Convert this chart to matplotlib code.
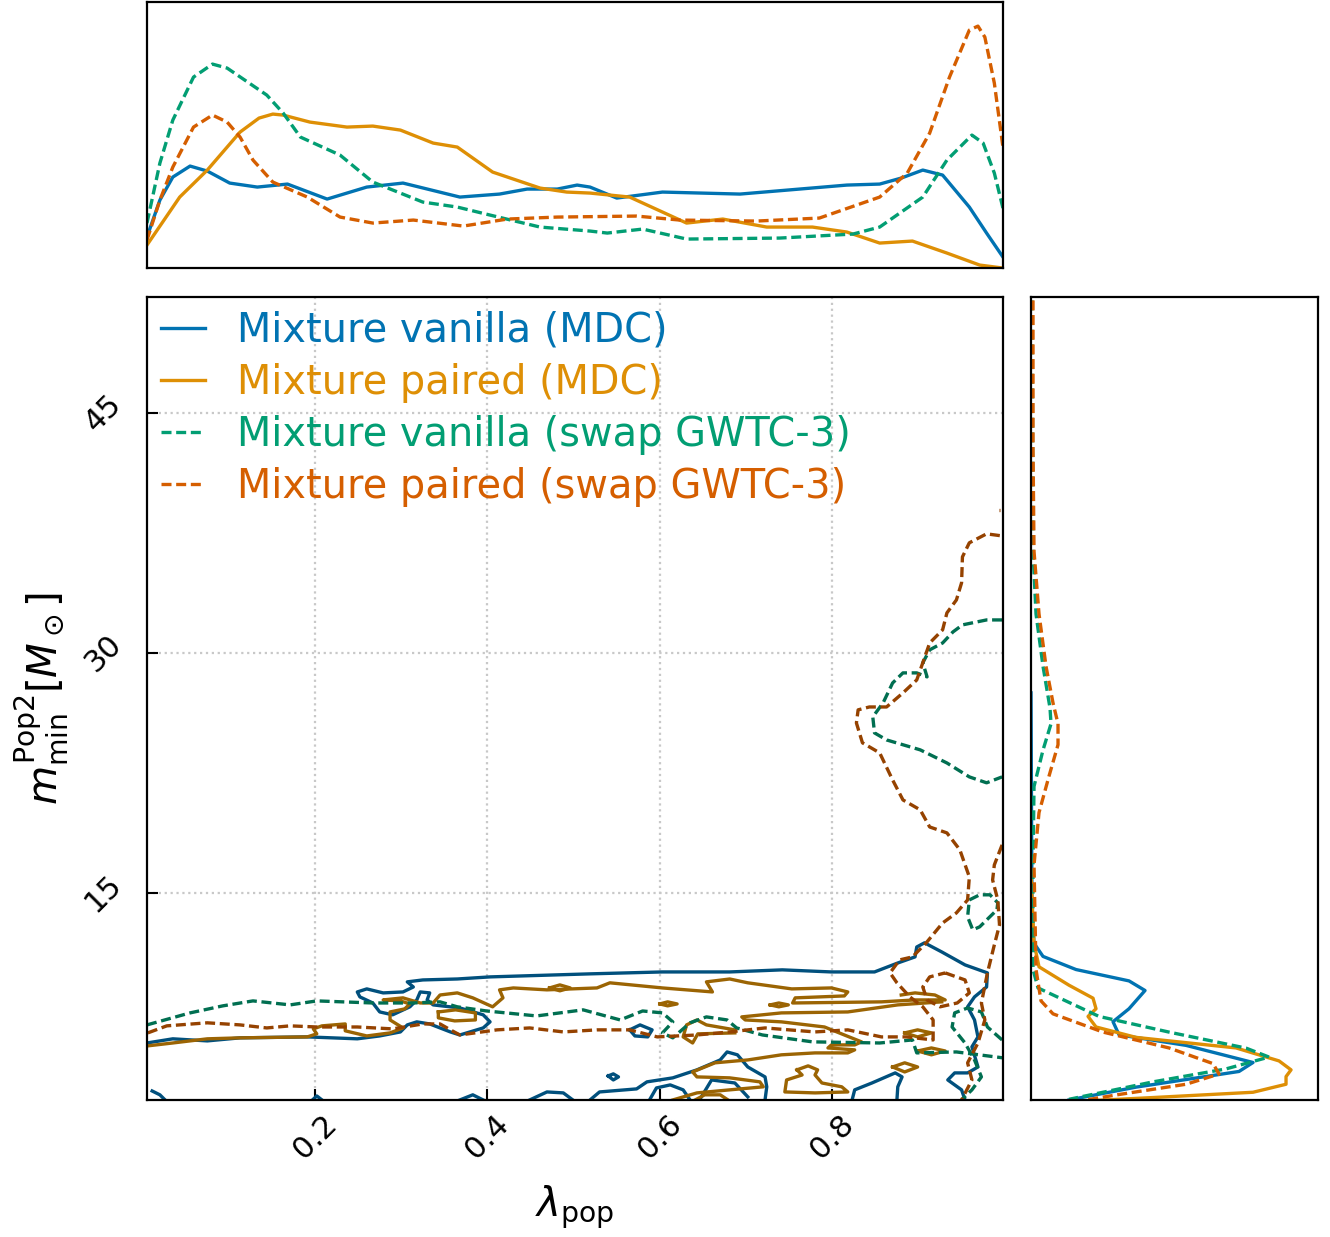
import numpy as np
import matplotlib
matplotlib.use("Agg")
import matplotlib.pyplot as plt

# --- labels / styles ---
labels = ["Mixture vanilla (MDC)", "Mixture paired (MDC)",
          "Mixture vanilla (swap GWTC-3)", "Mixture paired (swap GWTC-3)"]
colors = ["#0173b2", "#de8f05", "#029e73", "#d55e00"]
dark_colors = ["#01507d", "#9b6403", "#016f51", "#954200"]
styles = ["-", "-", "--", "--"]

lam_lim = (0.005, 0.998)
m_lim = (2.06, 52.25)
lam_ticks = [0.2, 0.4, 0.6, 0.8]
m_ticks = [15, 30, 45]

# --- 1D marginal of lambda_pop (top panel) ---
lam_vanilla_mdc = [0.005, 0.020, 0.035, 0.055, 0.075, 0.101, 0.133, 0.168, 0.214, 0.260, 0.302,
                   0.368, 0.414, 0.446, 0.481, 0.504, 0.519, 0.550, 0.603, 0.693, 0.817, 0.855,
                   0.880, 0.905, 0.928, 0.959, 0.979, 0.998]
pdf_vanilla_mdc = [31, 68, 91, 102, 97, 85, 81, 84, 69, 81, 85,
                   71, 74, 79, 79, 83, 81, 70, 76, 74, 83, 84,
                   90, 98, 93, 61, 35, 11]

lam_paired_mdc = [0.005, 0.043, 0.075, 0.113, 0.135, 0.151, 0.163, 0.194, 0.237, 0.267, 0.299,
                  0.337, 0.365, 0.406, 0.461, 0.492, 0.519, 0.565, 0.631, 0.673, 0.724, 0.777,
                  0.817, 0.855, 0.893, 0.933, 0.971, 0.998]
pdf_paired_mdc = [23, 71, 98, 136, 150, 154, 153, 146, 141, 142, 138,
                  125, 121, 96, 80, 76, 75, 71, 45, 49, 41, 41,
                  36, 25, 27, 15, 3, 0]

lam_vanilla_swap = [0.005, 0.020, 0.035, 0.059, 0.081, 0.098, 0.144, 0.163, 0.183, 0.229, 0.267,
                    0.325, 0.365, 0.403, 0.461, 0.519, 0.539, 0.580, 0.631, 0.739, 0.824, 0.855,
                    0.905, 0.933, 0.962, 0.975, 0.988, 0.998]
pdf_vanilla_swap = [45, 105, 148, 191, 204, 200, 173, 155, 131, 113, 86,
                    66, 61, 53, 41, 37, 35, 39, 29, 30, 34, 41,
                    71, 108, 133, 125, 95, 60]

lam_paired_swap = [0.005, 0.020, 0.035, 0.059, 0.081, 0.098, 0.113, 0.128, 0.151, 0.191, 0.229,
                   0.267, 0.314, 0.372, 0.423, 0.481, 0.573, 0.623, 0.712, 0.785, 0.855, 0.887,
                   0.913, 0.936, 0.959, 0.969, 0.977, 0.988, 0.998]
pdf_paired_swap = [28, 68, 101, 141, 153, 146, 131, 108, 86, 71, 51,
                   45, 48, 42, 49, 51, 52, 48, 47, 50, 71, 95,
                   135, 191, 238, 242, 231, 185, 121]

# --- 1D marginal of m_min^Pop2 (right panel) ---
m_vanilla_mdc = [27.5, 20.0, 14.0, 11.85, 11.03, 10.21, 9.5, 8.9, 7.76, 6.95, 6.13, 5.47,
                 4.4, 3.84, 2.86, 2.06]
pdfm_vanilla_mdc = [0, 0.5, 1, 3, 12, 45, 98, 114, 98, 82, 88, 155,
                    222, 208, 105, 38]

m_paired_mdc = [16.1, 11.85, 10.38, 9.23, 8.42, 7.76, 7.28, 6.62, 5.97, 5.31, 4.5, 3.94,
                3.52, 3.04, 2.54, 2.21, 2.0]
pdfm_paired_mdc = [0, 3, 8, 38, 62, 65, 57, 65, 105, 205, 248, 260,
                   255, 255, 222, 122, 55]

m_vanilla_swap = [52.03, 36.35, 32.43, 29.16, 26.55, 25.57, 23.93, 21.65, 16.75, 10.21, 9.06,
                  7.28, 6.3, 5.3, 4.74, 4.0, 3.19, 2.1]
pdfm_vanilla_swap = [1, 2, 5, 12, 19, 20, 12, 3, 2, 2, 7,
                     68, 138, 215, 238, 195, 122, 38]

m_paired_swap = [52.03, 42.89, 36.35, 32.43, 29.16, 26.87, 25.57, 24.26, 22.3, 20.02, 16.75,
                 10.21, 8.25, 7.44, 6.3, 5.31, 4.33, 3.68, 3.04, 2.4, 2.06]
pdfm_paired_swap = [2, 2, 3, 8, 15, 22, 27, 27, 18, 8, 3,
                    5, 10, 22, 72, 138, 182, 188, 155, 88, 55]

# --- 2D credible contours, (lambda_pop, m_min) vertices ---
contours_vanilla_mdc = [
    [(0.005, 5.62), (0.035, 5.88), (0.075, 5.75), (0.113, 5.94), (0.191, 6.00), (0.249, 5.88),
     (0.275, 6.06), (0.299, 6.31), (0.307, 6.75), (0.318, 6.94), (0.333, 6.81), (0.357, 6.31),
     (0.368, 6.12), (0.395, 6.56), (0.403, 6.94), (0.395, 7.38), (0.368, 7.81), (0.337, 8.00),
     (0.330, 8.31), (0.333, 8.75), (0.322, 8.81), (0.318, 8.31), (0.310, 7.88), (0.290, 7.38),
     (0.275, 7.56), (0.267, 8.12), (0.252, 8.50), (0.249, 8.81), (0.260, 9.00), (0.279, 8.75),
     (0.302, 8.81), (0.314, 9.12), (0.307, 9.44), (0.325, 9.56), (0.365, 9.62), (0.403, 9.75),
     (0.519, 9.94), (0.603, 10.06), (0.681, 10.06), (0.742, 10.19), (0.799, 10.06),
     (0.849, 10.06), (0.876, 10.62), (0.896, 11.00), (0.898, 11.62), (0.907, 11.88),
     (0.927, 11.31), (0.954, 10.50), (0.980, 10.00), (0.979, 9.12), (0.965, 8.50),
     (0.957, 7.88), (0.965, 7.06), (0.969, 6.00), (0.962, 5.38), (0.969, 4.12), (0.957, 3.75),
     (0.942, 3.75), (0.934, 3.31), (0.950, 2.69), (0.954, 2.06)],
    [(0.519, 2.06), (0.530, 2.56), (0.573, 2.75), (0.585, 3.19), (0.615, 3.44), (0.643, 3.94),
     (0.670, 4.56), (0.678, 5.06), (0.690, 4.88), (0.702, 4.12), (0.722, 3.50), (0.724, 2.88),
     (0.722, 2.06)],
    [(0.588, 2.06), (0.596, 2.81), (0.612, 3.00), (0.627, 2.69), (0.635, 2.06)],
    [(0.646, 2.06), (0.660, 3.31), (0.687, 3.12), (0.702, 2.25)],
    [(0.449, 2.06), (0.469, 2.56), (0.488, 2.50), (0.499, 2.06)],
    [(0.368, 2.06), (0.383, 2.38), (0.395, 2.06)],
    [(0.011, 2.62), (0.020, 2.38), (0.026, 2.06)],
    [(0.197, 2.06), (0.202, 2.31), (0.208, 2.06)],
    [(0.540, 3.56), (0.546, 3.69), (0.552, 3.50), (0.546, 3.31), (0.540, 3.56)],
    [(0.823, 2.06), (0.826, 2.69), (0.846, 3.12), (0.873, 3.75), (0.881, 3.50), (0.876, 2.88),
     (0.875, 2.06)],
    [(0.565, 6.44), (0.577, 6.75), (0.591, 6.44), (0.586, 6.00), (0.571, 6.06), (0.565, 6.44)],
]

contours_paired_mdc = [
    [(0.006, 5.44), (0.035, 5.62), (0.075, 5.88), (0.113, 5.94), (0.191, 6.00), (0.202, 6.19),
     (0.198, 6.50), (0.208, 6.69), (0.235, 6.81), (0.235, 6.38), (0.260, 6.06), (0.287, 6.25),
     (0.302, 6.56), (0.287, 7.06), (0.287, 7.56), (0.304, 7.75), (0.310, 8.06), (0.299, 8.25),
     (0.279, 8.31), (0.302, 8.44), (0.322, 8.12), (0.337, 8.12), (0.345, 8.62), (0.365, 8.75),
     (0.383, 8.44), (0.406, 7.88), (0.418, 8.44), (0.414, 8.94), (0.430, 9.06), (0.469, 8.94),
     (0.527, 9.06), (0.542, 9.38), (0.603, 9.06), (0.661, 8.81), (0.654, 9.44), (0.681, 9.62),
     (0.702, 9.38), (0.753, 9.00), (0.799, 9.06), (0.818, 8.81), (0.814, 8.56), (0.757, 8.44),
     (0.754, 8.12), (0.857, 8.19), (0.896, 8.31), (0.931, 8.31), (0.919, 8.62), (0.896, 8.75),
     (0.880, 8.62)],
    [(0.343, 7.56), (0.363, 7.69), (0.386, 7.50), (0.386, 7.06), (0.362, 7.00), (0.343, 7.19),
     (0.343, 7.56)],
    [(0.472, 9.06), (0.484, 9.25), (0.496, 9.06), (0.484, 8.88), (0.472, 9.06)],
    [(0.600, 8.06), (0.609, 8.19), (0.620, 8.06), (0.609, 7.94), (0.600, 8.06)],
    [(0.728, 8.00), (0.738, 8.12), (0.749, 8.00), (0.738, 7.88), (0.728, 8.00)],
    [(0.927, 8.19), (0.876, 8.00), (0.818, 7.56), (0.741, 7.50), (0.695, 7.25), (0.699, 7.06),
     (0.741, 6.94), (0.791, 6.62), (0.814, 6.12), (0.834, 5.69), (0.826, 5.50), (0.799, 5.50),
     (0.795, 5.31), (0.826, 5.19), (0.818, 5.00), (0.780, 5.00), (0.741, 4.88), (0.702, 4.56),
     (0.664, 4.38), (0.638, 3.81), (0.643, 3.50), (0.681, 3.44), (0.716, 3.19), (0.720, 2.88),
     (0.681, 2.69), (0.643, 2.50), (0.615, 2.06)],
    [(0.884, 6.25), (0.899, 6.44), (0.915, 6.25), (0.899, 6.00), (0.884, 6.25)],
    [(0.899, 5.12), (0.915, 5.31), (0.931, 5.12), (0.915, 4.88), (0.899, 5.12)],
    [(0.870, 4.12), (0.884, 4.38), (0.899, 4.12), (0.884, 3.81), (0.870, 4.12)],
    [(0.759, 3.94), (0.772, 4.19), (0.783, 3.94), (0.780, 3.62), (0.788, 3.12), (0.811, 2.88),
     (0.818, 2.56), (0.780, 2.50), (0.745, 2.56), (0.747, 3.31), (0.765, 3.62), (0.759, 3.94)],
    [(0.641, 2.06), (0.652, 2.38), (0.670, 2.38), (0.679, 2.06)],
    [(0.687, 6.44), (0.654, 6.75), (0.643, 7.06), (0.631, 6.75), (0.627, 6.00), (0.638, 5.62),
     (0.644, 6.19), (0.687, 6.25)],
]

contours_vanilla_swap = [
    [(0.005, 6.75), (0.055, 7.50), (0.093, 7.94), (0.128, 8.25), (0.171, 8.00), (0.202, 8.25),
     (0.267, 8.12), (0.314, 8.12), (0.345, 8.19), (0.365, 7.88), (0.399, 7.62), (0.457, 7.31),
     (0.511, 7.69), (0.554, 7.06), (0.580, 7.62), (0.603, 7.50), (0.615, 6.94), (0.603, 6.25),
     (0.615, 5.94), (0.635, 6.88), (0.654, 7.25), (0.678, 7.06), (0.689, 6.56), (0.719, 6.12),
     (0.777, 5.69), (0.855, 5.62), (0.893, 5.81), (0.898, 5.00), (0.944, 5.06), (0.998, 4.69)],
    [(0.997, 32.06), (0.979, 32.06), (0.951, 31.75), (0.940, 31.31), (0.928, 30.62),
     (0.913, 30.19), (0.905, 29.38), (0.910, 28.50), (0.898, 28.75), (0.882, 28.75),
     (0.870, 28.12), (0.859, 26.88), (0.847, 26.00), (0.849, 25.00), (0.863, 24.56),
     (0.902, 23.94), (0.933, 23.12), (0.959, 22.25), (0.979, 21.88), (0.997, 22.25)],
    [(0.959, 14.56), (0.971, 14.88), (0.983, 14.88), (0.992, 14.38), (0.991, 13.94),
     (0.971, 12.88), (0.963, 12.69), (0.957, 13.50), (0.959, 14.56)],
    [(0.997, 5.81), (0.980, 6.62), (0.973, 7.56), (0.957, 7.81), (0.942, 7.50), (0.939, 6.62),
     (0.954, 5.62), (0.965, 4.56), (0.973, 3.50), (0.962, 2.69), (0.950, 2.06)],
]

contours_paired_swap = [
    [(0.006, 6.25), (0.028, 6.69), (0.075, 6.88), (0.113, 6.75), (0.144, 6.56), (0.171, 6.69),
     (0.202, 6.62), (0.249, 6.62), (0.290, 6.50), (0.325, 6.81), (0.345, 6.81), (0.357, 6.44),
     (0.368, 6.12), (0.411, 6.44), (0.449, 6.56), (0.488, 6.31), (0.527, 6.44), (0.565, 6.44),
     (0.597, 6.00), (0.643, 6.12), (0.681, 6.31), (0.722, 6.56), (0.780, 6.31), (0.818, 6.44),
     (0.857, 6.00), (0.886, 6.00), (0.917, 5.81), (0.917, 7.06), (0.905, 7.88), (0.890, 8.50),
     (0.875, 9.38), (0.867, 10.00), (0.878, 10.81), (0.893, 11.00), (0.909, 11.88),
     (0.928, 13.12), (0.944, 13.75), (0.957, 14.56), (0.959, 16.00), (0.948, 17.69),
     (0.933, 18.75), (0.913, 19.12), (0.902, 20.19), (0.882, 20.81), (0.870, 22.06),
     (0.855, 23.75), (0.835, 24.38), (0.828, 25.62), (0.830, 26.44), (0.843, 26.62),
     (0.863, 26.62), (0.882, 27.50), (0.898, 28.31), (0.905, 29.38), (0.913, 30.62),
     (0.928, 31.44), (0.933, 32.50), (0.944, 33.31), (0.950, 34.38), (0.951, 36.00),
     (0.959, 36.88), (0.979, 37.44), (0.997, 37.31)],
    [(0.931, 10.0), (0.954, 9.56), (0.959, 8.75), (0.945, 8.12), (0.925, 7.88), (0.910, 8.31),
     (0.905, 9.12), (0.913, 9.75), (0.931, 10.0)],
    [(0.997, 18.0), (0.988, 16.75), (0.986, 15.81), (0.992, 14.56), (0.994, 13.0),
     (0.988, 11.75), (0.980, 10.0), (0.973, 8.12), (0.977, 7.06), (0.969, 5.62), (0.957, 4.38),
     (0.962, 3.31), (0.950, 2.06)],
    [(0.993, 38.94), (0.995, 38.94)],
]

# --- figure ---
fig = plt.figure(figsize=(13.3, 12.37), dpi=100)
ax = fig.add_axes([0.1105, 0.1108, 0.6436, 0.6492])
ax_top = fig.add_axes([0.1105, 0.7833, 0.6436, 0.2150])
ax_right = fig.add_axes([0.7752, 0.1108, 0.2158, 0.6492])

lw = 2.4
dash = (3.0, 1.4)


def style_kw(i):
    kw = dict(lw=lw, solid_joinstyle="round", dash_joinstyle="round")
    if styles[i] == "--":
        kw["dashes"] = dash
    return kw


top_data = [(lam_vanilla_mdc, pdf_vanilla_mdc), (lam_paired_mdc, pdf_paired_mdc),
            (lam_vanilla_swap, pdf_vanilla_swap), (lam_paired_swap, pdf_paired_swap)]
right_data = [(m_vanilla_mdc, pdfm_vanilla_mdc), (m_paired_mdc, pdfm_paired_mdc),
              (m_vanilla_swap, pdfm_vanilla_swap), (m_paired_swap, pdfm_paired_swap)]
contour_sets = [contours_vanilla_mdc, contours_paired_mdc,
                contours_vanilla_swap, contours_paired_swap]

for i in range(4):
    x, y = top_data[i]
    ax_top.plot(x, y, color=colors[i], **style_kw(i))
    m, p = right_data[i]
    ax_right.plot(p, m, color=colors[i], **style_kw(i))
    for path in contour_sets[i]:
        arr = np.array(path)
        ax.plot(arr[:, 0], arr[:, 1], color=dark_colors[i], **style_kw(i))

# legend handles
handles = [ax.plot([], [], color=colors[i], **style_kw(i))[0] for i in range(4)]
leg = ax.legend(handles, labels, loc="upper left", frameon=False, fontsize=28.7,
                handlelength=1.1, handletextpad=0.8, labelspacing=0.3,
                borderaxespad=0.25, borderpad=0.1)
for txt, c in zip(leg.get_texts(), colors):
    txt.set_color(c)

ax.set_xlim(*lam_lim)
ax.set_ylim(*m_lim)
ax.set_xticks(lam_ticks)
ax.set_yticks(m_ticks)
ax.set_xticklabels([str(t) for t in lam_ticks], rotation=45, ha="center")
ax.set_yticklabels([str(t) for t in m_ticks], rotation=45, va="center")
ax.tick_params(axis="both", direction="in", length=8, width=1.5, labelsize=22)
ax.tick_params(axis="x", pad=7)
ax.tick_params(axis="y", pad=14)
ax.grid(True, ls=":", color="#c8c8c8", lw=1.6)
ax.set_axisbelow(True)
ax.set_xlabel(r"$\lambda_{\rm pop}$", fontsize=29, labelpad=14)
ax.set_ylabel(r"$m_{\rm min}^{\rm Pop2}[M_\odot]$", fontsize=29, labelpad=6)

ax_top.set_xlim(*lam_lim)
ax_top.set_ylim(0, 266)
ax_right.set_ylim(*m_lim)
ax_right.set_xlim(0, 287)
for a in (ax_top, ax_right):
    a.set_xticks([])
    a.set_yticks([])

for a in (ax, ax_top, ax_right):
    for s in a.spines.values():
        s.set_linewidth(1.6)

fig.savefig("out.png", dpi=100)
